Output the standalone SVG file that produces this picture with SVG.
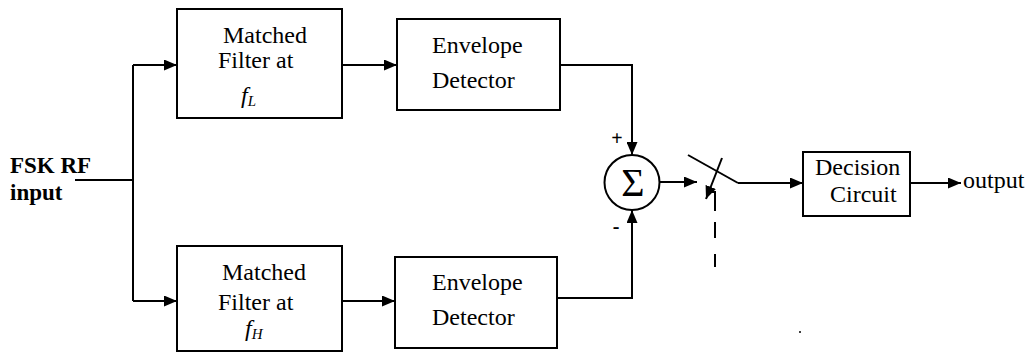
<svg xmlns="http://www.w3.org/2000/svg" width="1029" height="354" viewBox="0 0 1029 354">
<style>
.box{fill:#fff;stroke:#000;stroke-width:2}
.ln{fill:none;stroke:#000;stroke-width:2}
.t{font-family:"Liberation Serif","Times New Roman",serif;font-size:24px;fill:#000}
.b{font-weight:bold;font-size:23px}
.i{font-style:italic}
.sig{font-size:40px}
.pm{font-size:20px;font-weight:bold}
</style>
<defs>
<marker id="ah" markerUnits="userSpaceOnUse" markerWidth="13" markerHeight="11" refX="13" refY="5.5" orient="auto">
<path d="M0,0 L13,5.5 L0,11 z" fill="#000"/>
</marker>
</defs>
<g id="input">
<text class="t b" x="10" y="173">FSK RF</text>
<text class="t b" x="10" y="200">input</text>
</g>
<g id="mf-low">
<rect class="box" x="177" y="9" width="165" height="109"/>
<text class="t" x="223" y="43">Matched</text>
<text class="t" x="218" y="68">Filter at</text>
<text class="t i" x="241" y="103">f<tspan font-size="15" dy="3">L</tspan></text>
</g>
<g id="mf-high">
<rect class="box" x="177" y="246" width="165" height="105"/>
<text class="t" x="222" y="280">Matched</text>
<text class="t" x="218" y="310">Filter at</text>
<text class="t i" x="245" y="336">f<tspan font-size="15" dy="3">H</tspan></text>
</g>
<g id="env-low">
<rect class="box" x="397" y="19" width="163" height="91"/>
<text class="t" x="432" y="53">Envelope</text>
<text class="t" x="432" y="88">Detector</text>
</g>
<g id="env-high">
<rect class="box" x="395" y="257" width="162" height="91"/>
<text class="t" x="432" y="290">Envelope</text>
<text class="t" x="432" y="325">Detector</text>
</g>
<g id="sum">
<circle class="box" cx="632" cy="182.5" r="27.5"/>
<text class="t sig" x="633" y="196" text-anchor="middle">Σ</text>
<text class="t pm" x="617" y="145" text-anchor="middle">+</text>
<text class="t pm" x="616" y="233" text-anchor="middle">-</text>
</g>
<g id="switch">
<path class="ln" d="M688,155 L738,183"/>
<path class="ln" d="M722,158 L706,199" marker-end="url(#ah)"/>
<path class="ln" d="M712,192 L715,192 L715,211 M715,222 L715,238 M715,254 L715,267"/>
</g>
<g id="decision">
<rect class="box" x="803" y="152" width="107" height="64"/>
<text class="t" x="815" y="175">Decision</text>
<text class="t" x="830" y="202">Circuit</text>
</g>
<g id="output">
<text class="t" x="963" y="188">output</text>
</g>
<g id="connectors">
<path class="ln" d="M75,180 L133,180"/>
<path class="ln" d="M133,65 L133,301"/>
<path class="ln" d="M133,65 L177,65" marker-end="url(#ah)"/>
<path class="ln" d="M133,301 L177,301" marker-end="url(#ah)"/>
<path class="ln" d="M342,65 L397,65" marker-end="url(#ah)"/>
<path class="ln" d="M342,301 L395,301" marker-end="url(#ah)"/>
<path class="ln" d="M560,65 L632,65 L632,155" marker-end="url(#ah)"/>
<path class="ln" d="M557,298 L632,298 L632,210" marker-end="url(#ah)"/>
<path class="ln" d="M660,182 L697,182" marker-end="url(#ah)"/>
<path class="ln" d="M738,183 L803,183" marker-end="url(#ah)"/>
<path class="ln" d="M910,183 L961,183" marker-end="url(#ah)"/>
</g>
<circle cx="800" cy="332" r="1" fill="#000"/>
</svg>
